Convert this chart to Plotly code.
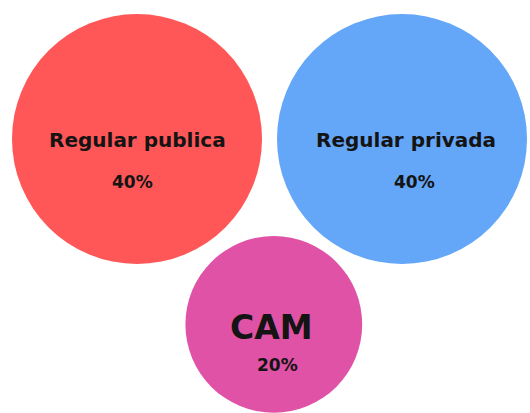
import math
import plotly.graph_objects as go

# Share of enrolment by type of school
categories = ["Regular publica", "Regular privada", "CAM"]
values = [40, 40, 20]
value_labels = ["40%", "40%", "20%"]

colors = ["#FF5757", "#64A6F7", "#E052A6"]

W, H = 530, 413
GAP_AB, GAP_AC, GAP_BC = 15, 17, 12   # spacing between neighbouring bubbles
SIZEREF = 2 * 40 / (250 ** 2)         # a 40% bubble is 250 px across


def radius(v):
    # plotly area mode: diameter = sqrt(2 * value / sizeref)
    return math.sqrt(2 * v / SIZEREF) / 2


rA, rB, rC = (radius(v) for v in values)

# Pack: two large bubbles side by side, the small one tucked underneath
ax, ay = 12 + rA, 14 + rA
bx, by = ax + rA + GAP_AB + rB, ay
dA, dB = rA + rC + GAP_AC, rB + rC + GAP_BC
d = bx - ax
a = (dA ** 2 - dB ** 2 + d ** 2) / (2 * d)
cx, cy = ax + a, ay + math.sqrt(dA ** 2 - a ** 2)
xs, ys = [ax, bx, cx], [ay, by, cy]

fig = go.Figure(go.Scatter(
    x=xs, y=ys, mode="markers",
    marker=dict(size=values, sizemode="area", sizeref=SIZEREF,
                color=colors, opacity=1, line=dict(width=0)),
    hoverinfo="skip",
))

FONT = "DejaVu Sans, Open Sans, sans-serif"
title_sizes = [20, 20, 33]
pct_sizes = [17, 17, 17]
title_dy = [1, 1, 3]
pct_dy = [43, 43, 41]
title_dx = [0, 4, -2]
pct_dx = [-5, 12, 4]

annotations = []
for i, (name, lab) in enumerate(zip(categories, value_labels)):
    annotations.append(dict(
        x=xs[i], y=ys[i], text=f"<b>{name}</b>", showarrow=False,
        xshift=title_dx[i], yshift=-title_dy[i],
        font=dict(family=FONT, size=title_sizes[i], color="#141414"),
    ))
    annotations.append(dict(
        x=xs[i], y=ys[i], text=f"<b>{lab}</b>", showarrow=False,
        xshift=pct_dx[i], yshift=-pct_dy[i],
        font=dict(family=FONT, size=pct_sizes[i], color="#141414"),
    ))

fig.update_layout(
    width=W, height=H,
    margin=dict(l=0, r=0, t=0, b=0),
    paper_bgcolor="white", plot_bgcolor="white",
    showlegend=False,
    xaxis=dict(range=[0, W], visible=False, fixedrange=True),
    yaxis=dict(range=[H, 0], visible=False, fixedrange=True),
    annotations=annotations,
)

fig.write_html("out.html", config={"displayModeBar": False})
